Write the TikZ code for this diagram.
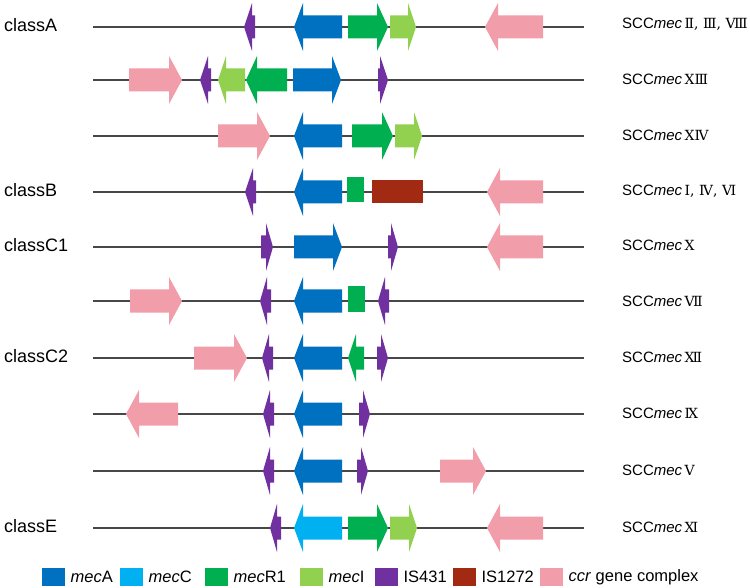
\documentclass[tikz,border=0pt]{standalone}
\usepackage{fontspec}
\setmainfont{Liberation Sans}
\newfontfamily\romfont{DejaVu Serif}
\usepackage{tikz}
\usepackage{xcolor}
\usetikzlibrary{positioning}

\definecolor{cmecA}{RGB}{0,112,192}
\definecolor{cmecC}{RGB}{0,176,240}
\definecolor{cmecR}{RGB}{0,176,80}
\definecolor{cmecI}{RGB}{146,208,80}
\definecolor{cisa}{RGB}{112,48,160}
\definecolor{cisb}{RGB}{163,42,18}
\definecolor{cccr}{RGB}{242,157,170}

% gene arrow: style, row y, tail x, tip x, head length
\newcommand{\gene}[5]{%
  \fill[#1] (#3,#2-11.5) -- ({#4-#5*sign(#4-#3)},#2-11.5) -- ({#4-#5*sign(#4-#3)},#2-24)
    -- (#4,#2) -- ({#4-#5*sign(#4-#3)},#2+24) -- ({#4-#5*sign(#4-#3)},#2+11.5) -- (#3,#2+11.5) -- cycle;}
% gene box: style, row y, left x, right x, half height
\newcommand{\gbox}[5]{\fill[#1] (#3,#2-#5) rectangle (#4,#2+#5);}
\newcommand{\scc}[1]{SCC\textit{mec}\,{\romfont\fontsize{14}{16}\selectfont #1}}

\begin{document}
\begin{tikzpicture}[x=1pt,y=-1pt,
    mecA/.style={fill=cmecA}, mecC/.style={fill=cmecC}, mecR/.style={fill=cmecR},
    mecI/.style={fill=cmecI}, isa/.style={fill=cisa}, isb/.style={fill=cisb}, ccr/.style={fill=cccr},
    chrom/.style={draw=black!72, line width=1.2pt},
    cls/.style={anchor=west, font=\fontsize{18}{20}\selectfont, inner sep=0pt},
    typ/.style={anchor=base west, font=\fontsize{15}{17}\selectfont, inner sep=0pt},
    key/.style={minimum width=23pt, minimum height=18pt, inner sep=0pt},
    keytext/.style={right=5pt of #1, font=\fontsize{16.5}{19}\selectfont, inner sep=0pt}]
                \useasboundingbox (0,0) rectangle (750,588);
                % chromosome lines
                \draw[chrom] (93,27) -- (584,27);
                \draw[chrom] (93,80) -- (584,80);
                \draw[chrom] (93,136) -- (584,136);
                \draw[chrom] (93,192) -- (584,192);
                \draw[chrom] (93,247) -- (584,247);
                \draw[chrom] (93,301) -- (584,301);
                \draw[chrom] (93,358) -- (584,358);
                \draw[chrom] (93,414) -- (584,414);
                \draw[chrom] (93,471) -- (584,471);
                \draw[chrom] (93,528) -- (584,528);
                % genes
                \gene{isa}{27}{255}{244}{8} \gene{mecA}{27}{342}{294}{9} \gene{mecR}{27}{348}{388}{11}
                \gene{mecI}{27}{390}{416}{8} \gene{ccr}{27}{543}{485}{13}
                \gene{ccr}{80}{129}{182}{13} \gene{isa}{80}{211}{200}{8} \gene{mecI}{80}{245}{218}{8}
                \gene{mecR}{80}{287}{246}{11} \gene{mecA}{80}{293}{341}{9} \gene{isa}{80}{378}{388}{8}
                \gene{ccr}{136}{218}{270}{13} \gene{mecA}{136}{342}{294}{9} \gene{mecR}{136}{352}{393}{11}
                \gene{mecI}{136}{395}{422}{8}
                \gene{isa}{192}{256}{245}{8} \gene{mecA}{192}{342}{294}{9} \gbox{mecR}{190}{347}{364}{12.5}
                \gbox{isb}{192}{372}{423}{11.5} \gene{ccr}{192}{543}{487}{13}
                \gene{isa}{247}{261}{273}{7} \gene{mecA}{247}{294}{342}{9} \gene{isa}{247}{388}{398}{7}
                \gene{ccr}{247}{543}{487}{13}
                \gene{ccr}{301}{130}{182}{13} \gene{isa}{301}{271}{260}{7} \gene{mecA}{301}{342}{294}{9}
                \gbox{mecR}{299}{348}{365}{12.5} \gene{isa}{301}{389}{378}{7}
                \gene{ccr}{358}{194}{247}{13} \gene{isa}{358}{273}{262}{7} \gene{mecA}{358}{342}{294}{9}
                \gene{mecR}{358}{364}{348}{8} \gene{isa}{358}{377}{388}{7}
                \gene{ccr}{414}{178}{126}{13} \gene{isa}{414}{274}{263}{7} \gene{mecA}{414}{342}{294}{9}
                \gene{isa}{414}{359}{370}{7}
                \gene{isa}{471}{274}{263}{7} \gene{mecA}{471}{342}{294}{9} \gene{isa}{471}{357}{368}{7}
                \gene{ccr}{471}{440}{486}{13}
                \gene{isa}{528}{281}{270}{7} \gene{mecC}{528}{342}{294}{9} \gene{mecR}{528}{348}{388}{11}
                \gene{mecI}{528}{390}{417}{8} \gene{ccr}{528}{543}{487}{13}
                % class labels
                \node[cls] (clsA) at (4,25) {classA};
                \node[cls] (clsB) at (4,190) {classB};
                \node[cls] (clsC1) at (4,245) {classC1};
                \node[cls] (clsC2) at (4,356) {classC2};
                \node[cls] (clsE) at (4,526) {classE};
                % SCCmec types
                \node[typ] (t1) at (622,29) {\scc{Ⅱ, Ⅲ, Ⅷ}};
                \node[typ] (t2) at (622,85) {\scc{ⅩⅢ}};
                \node[typ] (t3) at (622,141) {\scc{ⅩⅣ}};
                \node[typ] (t4) at (622,196) {\scc{Ⅰ, Ⅳ, Ⅵ}};
                \node[typ] (t5) at (622,251) {\scc{Ⅹ}};
                \node[typ] (t6) at (622,306) {\scc{Ⅶ}};
                \node[typ] (t7) at (622,362) {\scc{Ⅻ}};
                \node[typ] (t8) at (622,418) {\scc{Ⅸ}};
                \node[typ] (t9) at (622,475) {\scc{Ⅴ}};
                \node[typ] (t10) at (622,532) {\scc{Ⅺ}};
                % legend
                \node[key, mecA, anchor=west] (kA) at (42,577) {};
                \node[keytext=kA] (lA) {\textit{mec}A};
                \node[key, mecC, anchor=west] (kC) at (120,577) {};
                \node[keytext=kC] (lC) {\textit{mec}C};
                \node[key, mecR, anchor=west] (kR) at (205,577) {};
                \node[keytext=kR] (lR) {\textit{mec}R1};
                \node[key, mecI, anchor=west] (kI) at (300,577) {};
                \node[keytext=kI] (lI) {\textit{mec}I};
                \node[key, isa, anchor=west] (kisa) at (375,577) {};
                \node[keytext=kisa] (lisa) {IS431};
                \node[key, isb, anchor=west] (kisb) at (453,577) {};
                \node[keytext=kisb] (lisb) {IS1272};
                \node[key, ccr, anchor=west] (kccr) at (540,577) {};
                \node[keytext=kccr] (lccr) {\textit{ccr} gene complex};
            \end{tikzpicture}
\end{document}
